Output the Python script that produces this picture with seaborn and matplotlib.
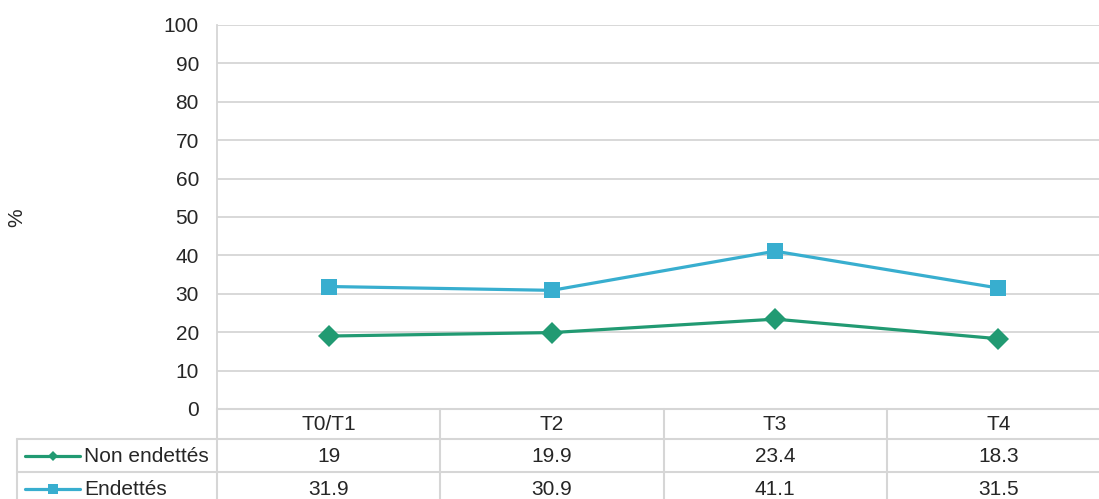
import pandas as pd
import seaborn as sns
import matplotlib.pyplot as plt
from matplotlib.lines import Line2D

sns.set_style('white')
plt.rcParams['font.family'] = ['Liberation Sans', 'DejaVu Sans']

periods = ['T0/T1', 'T2', 'T3', 'T4']
non_endettes = [19, 19.9, 23.4, 18.3]
endettes = [31.9, 30.9, 41.1, 31.5]
series_names = ['Non endettés', 'Endettés']
colors = {'Non endettés': '#219A72', 'Endettés': '#38AECF'}
markers = {'Non endettés': 'D', 'Endettés': 's'}
msizes = {'Non endettés': 11, 'Endettés': 11.5}

df = pd.DataFrame({
    'Période': periods * 2,
    'Valeur': non_endettes + endettes,
    'Groupe': [series_names[0]] * 4 + [series_names[1]] * 4,
})

W, H = 1099, 499
fig = plt.figure(figsize=(W / 100, H / 100), dpi=100)
FS = 15
GRID = '#D6D6D6'

# plot area in pixels
left, right, top, bottom = 217, 1110, 25, 409
ax = fig.add_axes([left / W, (H - bottom) / H, (right - left) / W, (bottom - top) / H])

for name in series_names:
    sub = df[df['Groupe'] == name]
    sns.lineplot(data=sub, x='Période', y='Valeur', color=colors[name], marker=markers[name],
                 markersize=msizes[name], markeredgewidth=0, linewidth=2.3, ax=ax, sort=False)

ax.set_xlim(-0.5, len(periods) - 0.5)
ax.set_ylim(0, 100)
ax.set_yticks(range(0, 101, 10))
ax.tick_params(axis='y', labelsize=FS, length=0, pad=13)
ax.set_xticks([])
ax.set_xlabel('')
ax.set_ylabel('')
ax.yaxis.grid(True, color=GRID, linewidth=1.3)
ax.set_axisbelow(True)
for s in ['top', 'right', 'bottom']:
    ax.spines[s].set_visible(False)
ax.spines['left'].set_color(GRID)
ax.spines['left'].set_linewidth(1.3)

fig.text(17 / W, 1 - 218 / H, '%', rotation=90, ha='center', va='center', fontsize=FS)

# data table below the plot
tab = fig.add_axes([0, 0, 1, 1], facecolor='none')
tab.set_xlim(0, W)
tab.set_ylim(H, 0)
tab.axis('off')
colw = (right - left) / len(periods)
rows = [bottom, 439, 472, 505]
lkw = dict(color=GRID, linewidth=1.5)
# horizontal lines
tab.plot([left, W], [rows[0], rows[0]], **lkw)
tab.plot([17, W], [rows[1], rows[1]], **lkw)
tab.plot([17, W], [rows[2], rows[2]], **lkw)
# vertical lines
tab.plot([17, 17], [rows[1], rows[3]], **lkw)
for i in range(len(periods) + 1):
    x = left + i * colw
    tab.plot([x, x], [rows[0], rows[3]], **lkw)

for i, p in enumerate(periods):
    cx = left + (i + 0.5) * colw
    tab.text(cx, (rows[0] + rows[1]) / 2 + 1, p, ha='center', va='center', fontsize=FS)
    for r, vals in enumerate([non_endettes, endettes]):
        tab.text(cx, (rows[r + 1] + rows[r + 2]) / 2 + 1, f'{vals[i]:g}', ha='center', va='center', fontsize=FS)

for r, name in enumerate(series_names):
    cy = (rows[r + 1] + rows[r + 2]) / 2
    tab.add_line(Line2D([25, 80], [cy, cy], color=colors[name], linewidth=2.3))
    tab.add_line(Line2D([52.5], [cy], color=colors[name], marker=markers[name],
                        markersize=5.5 if name == 'Non endettés' else 6.5, markeredgewidth=0))
    tab.text(84, cy + 1, name, ha='left', va='center', fontsize=FS)

fig.savefig('out.png', dpi=100)
